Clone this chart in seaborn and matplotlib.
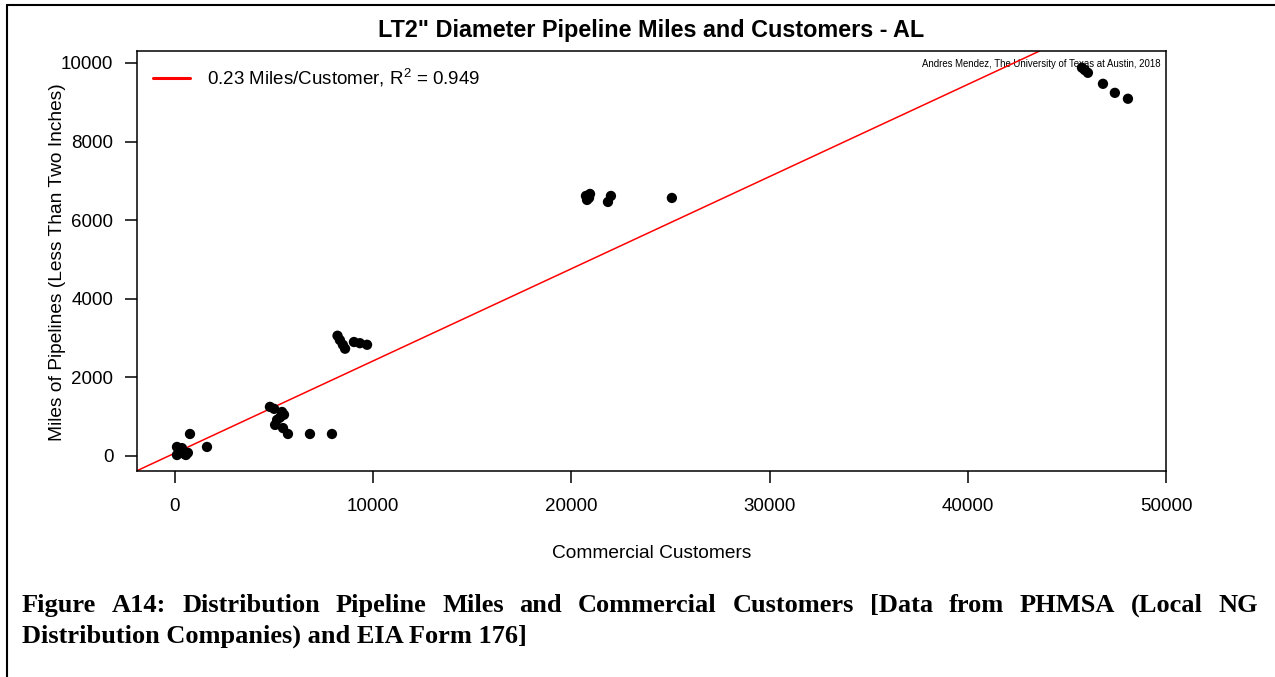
import numpy as np
import pandas as pd
import seaborn as sns
import matplotlib.pyplot as plt
from matplotlib.lines import Line2D

# commercial customers vs miles of <2" pipeline
customers = [100, 350, 100, 550, 650, 250, 450, 200, 757, 1614,
             4790, 5000, 5400, 5500, 5150, 5050, 5300, 5450, 5700, 6810, 7920,
             8200, 8320, 8470, 8580, 9030, 9330, 9690,
             20735, 20940, 20790, 20890, 21995, 21845, 25070,
             45760, 45900, 46060, 46820, 47420, 48080]
miles = [230, 200, 25, 25, 80, 120, 60, 150, 560, 230,
         1250, 1200, 1120, 1050, 920, 790, 980, 710, 560, 560, 560,
         3060, 2950, 2830, 2730, 2900, 2870, 2830,
         6617, 6668, 6515, 6566, 6617, 6464, 6566,
         9880, 9820, 9750, 9470, 9240, 9090]

slope = 0.2345
intercept = 75
r2 = 0.949

x_ticks = [0, 10000, 20000, 30000, 40000, 50000]
y_ticks = [0, 2000, 4000, 6000, 8000, 10000]

title = 'LT2" Diameter Pipeline Miles and Customers - AL'
credit = 'Andres Mendez, The University of Texas at Austin, 2018'
caption1 = 'Figure A14: Distribution Pipeline Miles and Commercial Customers [Data from PHMSA (Local NG'
caption2 = 'Distribution Companies) and EIA Form 176]'

sns.set_style('ticks')
plt.rcParams['font.family'] = ['Liberation Sans', 'DejaVu Sans']
plt.rcParams['text.color'] = 'black'
plt.rcParams['mathtext.fontset'] = 'custom'
plt.rcParams['mathtext.rm'] = 'Liberation Sans'
plt.rcParams['mathtext.it'] = 'Liberation Sans:italic'

W, H = 1275, 677
fig = plt.figure(figsize=(W / 100, H / 100), dpi=100)
ax = fig.add_axes([137 / W, 1 - 471 / H, (1166 - 137) / W, (471 - 51) / H])

df = pd.DataFrame({'customers': customers, 'miles': miles})

ax.text(0.995, 0.969, credit, transform=ax.transAxes, ha='right', va='center',
        fontsize=6.9, zorder=1)
ax.axline((0, intercept), slope=slope, color='red', lw=1.1, zorder=2)
sns.scatterplot(data=df, x='customers', y='miles', color='black', s=55,
                edgecolor='none', linewidth=0, ax=ax, zorder=3, legend=False)

ax.set_xlim(-1917, 50000)
ax.set_ylim(-382, 10305)
ax.set_xticks(x_ticks)
ax.set_yticks(y_ticks)
ax.set_xlabel('')
ax.set_ylabel('')
ax.tick_params(axis='both', length=8.6, width=1.1, labelsize=13.5, colors='black')
ax.tick_params(axis='x', pad=11)
ax.tick_params(axis='y', pad=8.5)
for sp in ax.spines.values():
    sp.set_visible(True)
    sp.set_linewidth(1.1)
    sp.set_color('black')

handle = Line2D([], [], color='red', lw=2.2)
ax.legend([handle], ['%.2f Miles/Customer, R$^{2}$ = %.3f' % (0.23, r2)],
          loc='upper left', bbox_to_anchor=(0, 1), frameon=False, fontsize=13.5,
          handlelength=2.0, handletextpad=0.9, borderaxespad=0.45, borderpad=0.4,
          labelcolor='black')

fig.text(651.5 / W, 1 - 30 / H, title, ha='center', va='center', fontsize=16.8,
         weight='bold')
fig.text(651.5 / W, 1 - 553 / H, 'Commercial Customers', ha='center', va='center',
         fontsize=13.8)
fig.text(58 / W, 1 - 262 / H, 'Miles of Pipelines (Less Than Two Inches)', ha='center',
         va='center', rotation=90, fontsize=13.8)

# caption, first line justified
cap_font = dict(family=['Liberation Serif', 'DejaVu Serif'], weight='bold', fontsize=19)
fig.canvas.draw()
rend = fig.canvas.get_renderer()
words = caption1.split()
wtexts = [fig.text(0, 1 - 612 / H, w, ha='left', va='baseline', **cap_font) for w in words]
widths = [t.get_window_extent(rend).width for t in wtexts]
left, right = 22, 1258
gap = (right - left - sum(widths)) / (len(words) - 1)
xpos = left
for t, w in zip(wtexts, widths):
    t.set_x(xpos / W)
    xpos += w + gap
fig.text(left / W, 1 - 643 / H, caption2, ha='left', va='baseline', **cap_font)

# page frame
fig.add_artist(Line2D([7 / W, 7 / W], [0, 1 - 4.5 / H], color='black', lw=1.5))
fig.add_artist(Line2D([7 / W, 1], [1 - 4.5 / H, 1 - 4.5 / H], color='black', lw=1.5))

fig.savefig('out.png', dpi=100)
